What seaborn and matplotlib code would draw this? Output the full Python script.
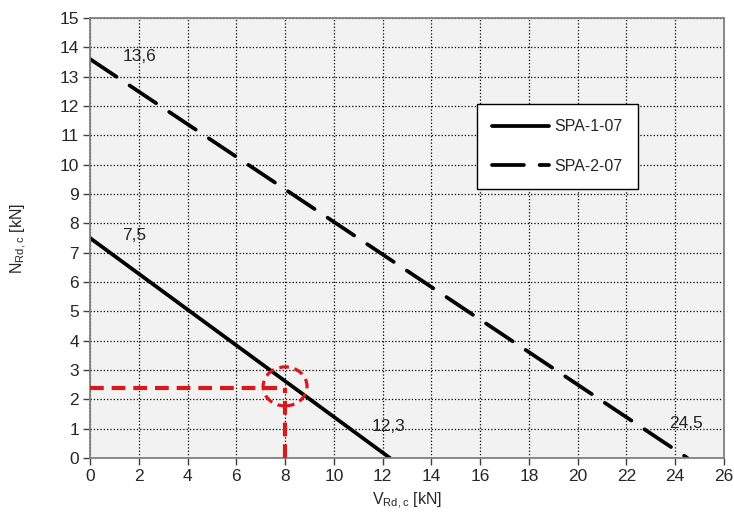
import pandas as pd
import matplotlib
matplotlib.use("Agg")
import matplotlib.pyplot as plt
import seaborn as sns
from matplotlib.patches import Ellipse

# interaction lines V_Rd,c / N_Rd,c
v_spa1 = [0, 12.3]
n_spa1 = [7.5, 0]
v_spa2 = [0, 24.5]
n_spa2 = [13.6, 0]

# reading example
v_read = 8
n_read = 2.4

labels = ["13,6", "7,5", "12,3", "24,5"]
label_x = [1.35, 1.3, 11.55, 23.75]
label_y = [13.67, 7.6, 1.06, 1.19]

sns.set_style("white")
plt.rcParams['font.family'] = ['Liberation Sans', 'DejaVu Sans']
plt.rcParams['mathtext.fontset'] = 'custom'
plt.rcParams['mathtext.rm'] = 'Liberation Sans'

fig = plt.figure(figsize=(7.34, 5.12), dpi=100)
ax = fig.add_axes([0.1226, 0.1055, 0.8638, 0.8594])
ax.set_facecolor("#f2f2f2")

df1 = pd.DataFrame({"V": v_spa1, "N": n_spa1})
df2 = pd.DataFrame({"V": v_spa2, "N": n_spa2})
sns.lineplot(data=df1, x="V", y="N", ax=ax, color="black", lw=2.7, label="SPA-1-07")
sns.lineplot(data=df2, x="V", y="N", ax=ax, color="black", lw=2.7, label="SPA-2-07")
ax.lines[1].set_dashes([8.5, 4.2])
ax.lines[1].set_dash_capstyle("round")
ax.lines[0].set_solid_capstyle("round")

# red reading lines
red = "#d7191c"
ax.plot([0, v_read], [n_read, n_read], color=red, lw=3, dashes=(3.3, 1.9), zorder=3)
ax.plot([v_read, v_read], [0, n_read], color=red, lw=3, dashes=(3.3, 1.9), zorder=3)
ax.add_patch(Ellipse((v_read, n_read + 0.04), 1.8, 1.33, fill=False, ec=red,
                     lw=2.3, ls=(0, (3.0, 1.8)), zorder=3))

for t, x, y in zip(labels, label_x, label_y):
    ax.text(x, y, t, fontsize=12.5, ha="left", va="center")

ax.set_xlim(0, 26)
ax.set_ylim(0, 15)
ax.set_xticks(range(0, 27, 2))
ax.set_yticks(range(0, 16))
ax.grid(True, color="black", ls=":", lw=0.9)
ax.set_axisbelow(True)
for s in ax.spines.values():
    s.set_color("#808080")
    s.set_linewidth(1.3)
ax.tick_params(axis="both", direction="out", length=5, width=1, color="#404040",
               labelsize=12.5, bottom=True, left=True, pad=3)

ax.set_xlabel(r"V$_{\mathrm{Rd,c}}$ [kN]", fontsize=11.5, labelpad=5)
ax.set_ylabel(r"N$_{\mathrm{Rd,c}}$ [kN]", fontsize=11.5, labelpad=22)

leg = ax.legend(loc="upper left", bbox_to_anchor=(0.610, 0.8045), fontsize=11.5,
                frameon=True, fancybox=False, edgecolor="black", framealpha=1,
                handlelength=3.6, borderpad=0.95, labelspacing=1.55, handletextpad=0.3,
                borderaxespad=0)
leg.get_frame().set_linewidth(1.0)

fig.savefig("out.png", dpi=100)
